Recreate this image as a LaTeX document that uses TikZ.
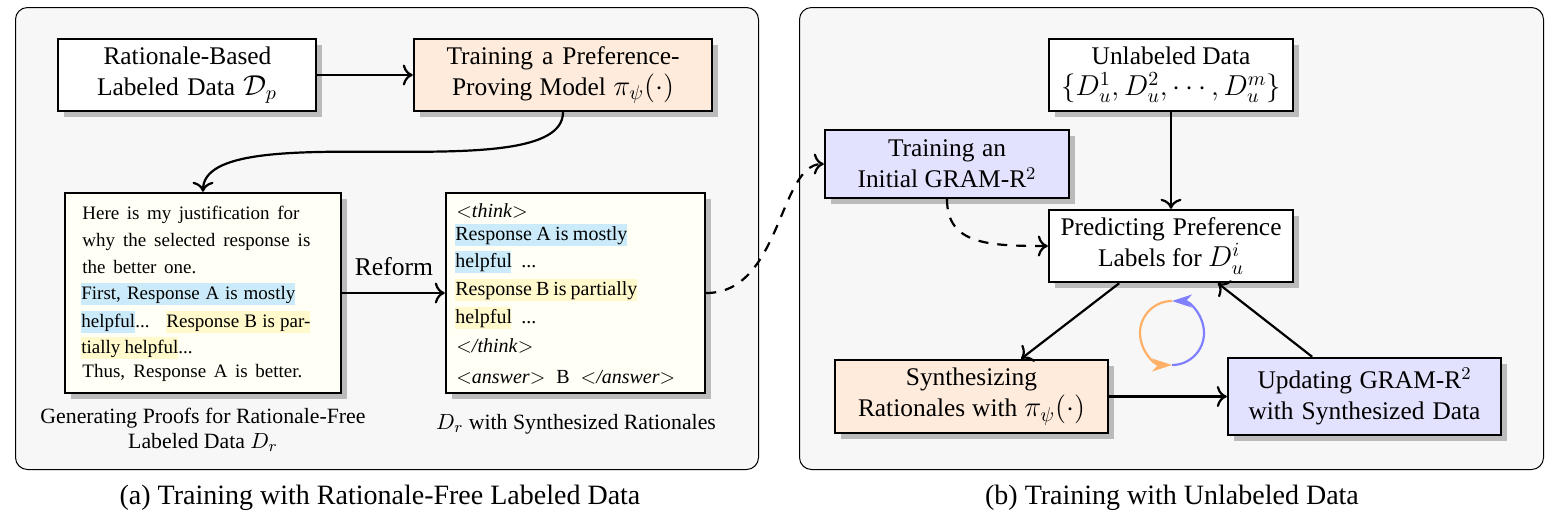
\documentclass[tikz,border=0pt]{standalone}
\usepackage{fontspec}
\setmainfont{Liberation Serif}
\usetikzlibrary{arrows.meta,shadows,calc}
\definecolor{panelbg}{HTML}{F7F7F7}
\definecolor{orangebg}{HTML}{FFEBDB}
\definecolor{bluebg}{HTML}{E2E2FF}
\definecolor{paper}{HTML}{FFFFF6}
\definecolor{hlblue}{HTML}{CBEBFA}
\definecolor{hlyel}{HTML}{FFF9CC}
\definecolor{looporange}{HTML}{FFB066}
\definecolor{loopblue}{HTML}{7F7FFF}
\definecolor{shadowgrey}{HTML}{BBBBBB}
\newcommand\hlbox[3]{{\setlength{\fboxsep}{0pt}\colorbox{#1}{\rule[-3pt]{0pt}{11pt}\makebox[#2][s]{#3}}}}
\newcommand\jline[2]{\makebox[#1][s]{#2}}
\newcommand\bigmath[1]{{\fontsize{14}{15.5}\selectfont$#1$}}
\tikzset{
  panel/.style={draw=black,line width=0.5pt,fill=panelbg,rounded corners=6pt,anchor=north west,inner sep=0pt,minimum width=#1},
  mainbox/.style={draw=black,line width=1.2pt,fill=white,align=center,inner sep=0pt,
    font=\fontsize{12.7}{15.5}\selectfont,
    drop shadow={shadow xshift=3pt,shadow yshift=-3pt,fill=shadowgrey,opacity=1}},
  paperbox/.style={mainbox,fill=paper},
  txtline/.style={anchor=base west,inner sep=0pt,font=\fontsize{10}{12}\selectfont},
  smalltxt/.style={txtline,font=\fontsize{9.5}{12}\selectfont},
  boxcap/.style={align=center,inner sep=0pt,font=\fontsize{10.9}{12.5}\selectfont},
  subcap/.style={inner sep=0pt,font=\fontsize{14}{16}\selectfont},
  conn/.style={line width=1.1pt,-{Computer Modern Rightarrow[scale=1.25]}},
  dconn/.style={conn,dash pattern=on 5pt off 4.5pt},
  looparc/.style={line width=1.1pt,-{Stealth[length=10pt,width=6.5pt,inset=3pt]}},
}
\begin{document}
\begin{tikzpicture}[x=0.5pt,y=-0.5pt]
\useasboundingbox (0,0) rectangle (1557,516);
\node[panel=371.5pt,minimum height=231pt] (panelA) at (15,7) {};
\node[panel=372pt,minimum height=231pt] (panelB) at (799,7) {};

\node[mainbox,minimum width=129pt,minimum height=36pt] (ratdata) at (187,75) {\jline{83.5pt}{Rationale-Based}\\\jline{90pt}{Labeled Data \bigmath{\mathcal{D}_p}}};
\node[mainbox,fill=orangebg,minimum width=149pt,minimum height=36pt] (trainpp) at (563,75) {\jline{116.5pt}{Training a Preference-}\\\jline{111pt}{Proving Model \bigmath{\pi_\psi(\cdot)}}};
\node[paperbox,minimum width=138pt,minimum height=100pt] (proofs) at (203,293) {};
\node[paperbox,minimum width=129.5pt,minimum height=100pt] (synth) at (575.5,293) {};

\node[smalltxt] (p1) at (82,219) {\jline{108.5pt}{Here is my justification for}};
\node[smalltxt] (p2) at (82,246) {\jline{114pt}{why the selected response is}};
\node[smalltxt] (p3) at (82,273) {\jline{57pt}{the better one.}};
\node[smalltxt] (p4) at (81,299) {\hlbox{hlblue}{107pt}{First, Response A is mostly}};
\node[smalltxt] (p5) at (81,327) {\hlbox{hlblue}{27pt}{helpful}\makebox[15.5pt][l]{...}\hlbox{hlyel}{72pt}{Response B is par-}};
\node[smalltxt] (p6) at (81,353) {\hlbox{hlyel}{48.5pt}{tially helpful}...};
\node[smalltxt] (p7) at (82,377) {\jline{110pt}{Thus, Response A is better.}};

\node[txtline] (s1) at (456,217) {$<$\textit{think}$>$};
\node[txtline] (s2) at (455,240) {\hlbox{hlblue}{86pt}{Response A is mostly}};
\node[txtline] (s3) at (455,267) {\hlbox{hlblue}{28pt}{helpful}\hspace{5pt}...};
\node[txtline] (s4) at (455,295) {\hlbox{hlyel}{91pt}{Response B is partially}};
\node[txtline] (s5) at (455,323) {\hlbox{hlyel}{28pt}{helpful}\hspace{5pt}...};
\node[txtline] (s6) at (456,352) {$<$\textit{/think}$>$};
\node[txtline] (s7) at (456,383) {$<$\textit{answer}$>$\hspace{5.5pt}B\hspace{5.5pt}$<$\textit{/answer}$>$};

\node[boxcap] (capproofs) at (203,430) {Generating Proofs for Rationale-Free\\Labeled Data $D_r$};
\node[boxcap] (capsynth) at (576,424) {$D_r$ with Synthesized Rationales};
\node[subcap,font=\fontsize{12.8}{15}\selectfont] (reform) at (394,267) {Reform};

\node[mainbox,minimum width=122pt,minimum height=36pt] (unlab) at (1171,75) {Unlabeled Data\\\bigmath{\{D_u^1,D_u^2,\cdots,D_u^m\}}};
\node[mainbox,fill=bluebg,minimum width=122pt,minimum height=34pt] (init) at (947,164) {\jline{59pt}{Training an}\\Initial GRAM-R$^2$};
\node[mainbox,minimum width=122pt,minimum height=36pt] (pred) at (1171,246) {\jline{110.5pt}{Predicting Preference}\\Labels for \bigmath{D_u^i}};
\node[mainbox,fill=orangebg,minimum width=136.5pt,minimum height=36.5pt] (synrat) at (971.5,396.5) {Synthesizing\\\jline{113.5pt}{Rationales with \bigmath{\pi_\psi(\cdot)}}};
\node[mainbox,fill=bluebg,minimum width=136.5pt,minimum height=38.5pt] (update) at (1364.5,396.5) {\jline{107pt}{Updating GRAM-R$^2$}\\\jline{116pt}{with Synthesized Data}};

\coordinate (loopc) at (1172,333);
\draw[looparc,draw=looporange] ($(loopc)+(0,-32)$) arc[start angle=90,end angle=270,radius=16pt];
\draw[looparc,draw=loopblue] ($(loopc)+(0,32)$) arc[start angle=-90,end angle=90,radius=16pt];

\node[subcap] (capa) at (380,498) {(a) Training with Rationale-Free Labeled Data};
\node[subcap] (capb) at (1172,498) {(b) Training with Unlabeled Data};

\draw[conn] (ratdata) -- (trainpp);
\draw[conn] (trainpp.south) .. controls +(0,80) and ($(proofs.north)+(0,-80)$) .. (proofs.north);
\draw[conn] (proofs.east) -- (synth.west);
\draw[dconn] (synth.east) .. controls +(75,0) and ($(init.west)+(-45,0)$) .. (init.west);
\draw[conn] (unlab.south) -- (pred.north);
\draw[dconn] (init.south) .. controls +(0,45) and ($(pred.west)+(-60,0)$) .. (pred.west);
\draw[conn] ($(pred.south west)!0.29!(pred.south east)$) -- ($(synrat.north west)!0.68!(synrat.north east)$);
\draw[conn] ($(update.north west)!0.31!(update.north east)$) -- ($(pred.south west)!0.69!(pred.south east)$);
\draw[conn] (synrat.east) -- (update.west);
\end{tikzpicture}
\end{document}
